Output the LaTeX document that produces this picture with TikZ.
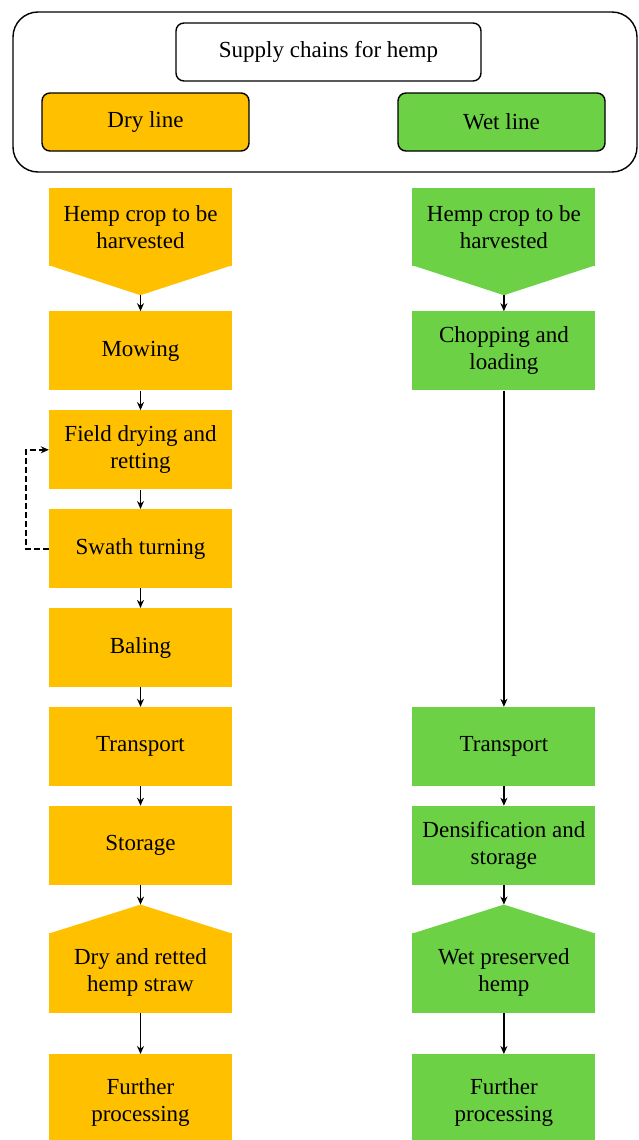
\documentclass[tikz,border=0pt]{standalone}
\usepackage{fontspec}
\setmainfont{Liberation Serif}
\newfontfamily\hempserif{Liberation Serif}
\usetikzlibrary{arrows.meta, positioning, calc}
\definecolor{dryline}{HTML}{FFC000}
\definecolor{wetline}{HTML}{6CD144}
\newcommand{\hempfont}{\hempserif\fontsize{23}{27}\selectfont}
\tikzset{
  stage/.style={rectangle, fill=#1, minimum width=183pt, minimum height=79pt,
                inner sep=2pt, align=center, font=\hempfont},
  headbox/.style={rectangle, rounded corners=8pt, draw=black, line width=1.4pt,
                  fill=white, minimum height=58pt, align=center, font=\hempfont},
  flow/.style={-{Stealth[length=8pt, width=7pt]}, line width=1.8pt},
}

\begin{document}
\begin{tikzpicture}[
  x=1pt, y=1pt,
  node distance=19.5pt and 180pt,
  frame/.style={rectangle, rounded corners=25pt, draw=black, line width=1.4pt,
                minimum width=624pt, minimum height=160pt},
]
  \useasboundingbox (0,0) rectangle (638,-1140);

  %% ── HEADER ───────────────────────────────────────────────────────────────
  \node[frame] (frame) at (325,-92) {};
  \node[headbox, minimum width=305pt] (title) at (328.5,-52) {Supply chains for hemp};
  \node[headbox, minimum width=207pt, fill=dryline] (dry) at (145.5,-122) {Dry line};
  \node[headbox, minimum width=207pt, fill=wetline] (wet) at (501.5,-122) {Wet line};

  %% ── DRY LINE (left column) ───────────────────────────────────────────────
  \node[stage=dryline, minimum height=78pt] (cropD) at (140.5,-227) {Hemp crop to be\\harvested};
  \node[stage=dryline, below=45pt of cropD]  (mowD)    {Mowing};
  \node[stage=dryline, below=of mowD]        (fieldD)  {Field drying and\\retting};
  \node[stage=dryline, below=of fieldD]      (swathD)  {Swath turning};
  \node[stage=dryline, below=of swathD]      (balD)    {Baling};
  \node[stage=dryline, below=of balD]        (transD)  {Transport};
  \node[stage=dryline, below=of transD]      (storD)   {Storage};
  \node[stage=dryline, minimum height=80pt, below=47.5pt of storD] (strawD) {Dry and retted\\hemp straw};
  \node[stage=dryline, minimum height=96pt, below=41pt of strawD]  (furtherD) {Further\\processing};

  %% ── WET LINE (right column) ──────────────────────────────────────────────
  \node[stage=wetline, minimum height=78pt, right=of cropD] (cropW) {Hemp crop to be\\harvested};
  \node[stage=wetline, right=of mowD]        (chopW)   {Chopping and\\loading};
  \node[stage=wetline, right=of transD]      (transW)  {Transport};
  \node[stage=wetline, right=of storD]       (densW)   {Densification and\\storage};
  \node[stage=wetline, minimum height=80pt, right=of strawD]   (strawW)   {Wet preserved\\hemp};
  \node[stage=wetline, minimum height=96pt, right=of furtherD] (furtherW) {Further\\processing};

  %% ── POINTED ENDS ─────────────────────────────────────────────────────────
  \coordinate (cropDtip)  at ($(cropD.south)+(0,-29)$);
  \coordinate (cropWtip)  at ($(cropW.south)+(0,-29)$);
  \coordinate (strawDtip) at ($(strawD.north)+(0,28)$);
  \coordinate (strawWtip) at ($(strawW.north)+(0,28)$);
  \fill[dryline] ([yshift=1pt]cropD.south west) -- ([yshift=1pt]cropD.south east) -- (cropDtip) -- cycle;
  \fill[wetline] ([yshift=1pt]cropW.south west) -- ([yshift=1pt]cropW.south east) -- (cropWtip) -- cycle;
  \fill[dryline] ([yshift=-1pt]strawD.north west) -- ([yshift=-1pt]strawD.north east) -- (strawDtip) -- cycle;
  \fill[wetline] ([yshift=-1pt]strawW.north west) -- ([yshift=-1pt]strawW.north east) -- (strawWtip) -- cycle;

  %% ── ARROWS ───────────────────────────────────────────────────────────────
  \foreach \a/\b in {cropDtip/mowD, mowD/fieldD, fieldD/swathD, swathD/balD, balD/transD,
                     transD/storD, storD/strawDtip, strawD/furtherD,
                     cropWtip/chopW, chopW/transW, transW/densW, densW/strawWtip, strawW/furtherW}{
    \draw[flow] (\a) -- (\b);
  }

  %% swath turning loops back to field drying
  \draw[flow, dash pattern=on 6pt off 3pt] (swathD.west) -- ++(-23,0) |- (fieldD.west);

\end{tikzpicture}
\end{document}
